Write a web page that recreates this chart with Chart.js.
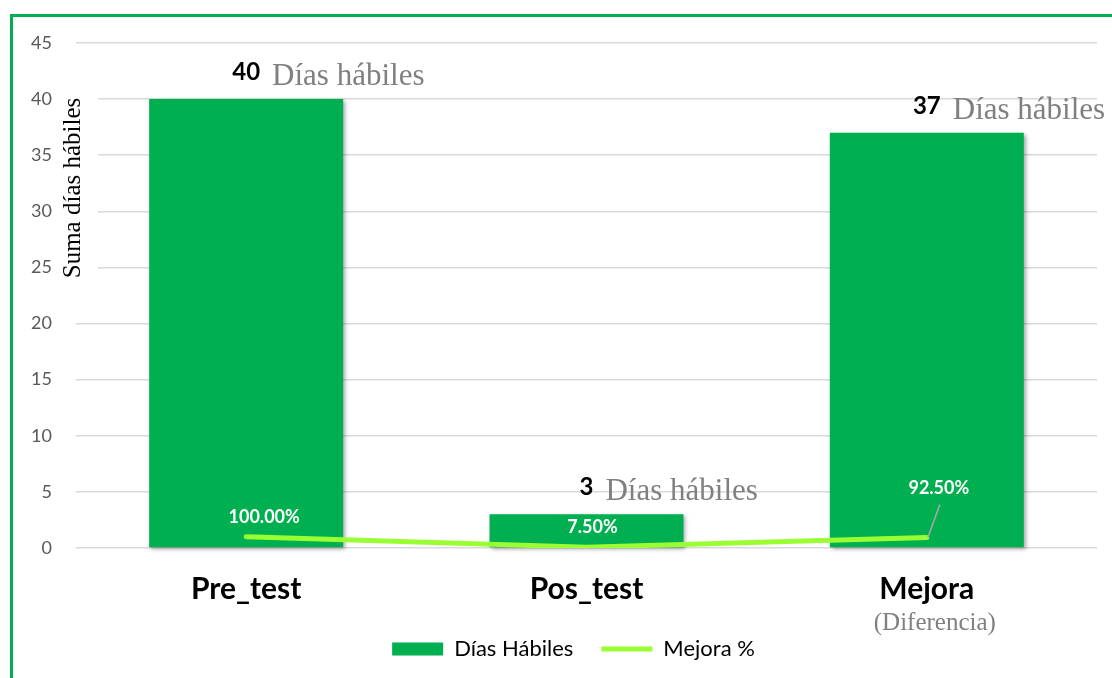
<!DOCTYPE html>
<html>
<head>
<meta charset="utf-8">
<script src="https://cdn.jsdelivr.net/npm/chart.js@4"></script>
<style>
  body { margin: 0; background: #fff; overflow: hidden; }
</style>
</head>
<body>
<canvas id="myChart" width="1112" height="678"></canvas>
<script>
// datos
const categories = ['Pre_test', 'Pos_test', 'Mejora'];
const categoryNotes = ['', '', '(Diferencia)'];
const diasHabiles = [40, 3, 37];
const mejoraPct = [1, 0.075, 0.925];
const seriesNames = ['Días Hábiles', 'Mejora %'];
const valueSuffix = 'Días hábiles';
const axisTitle = 'Suma días hábiles';
const yMax = 45;
const yStep = 5;

// desplazamientos de las etiquetas de porcentaje (px)
const pctDx = [18, 6, 12];
const pctDy = [-14, -14, -44];

const GREEN = '#00B050';
const LIME = '#99FF33';
const SERIF = '"Liberation Serif", "Times New Roman", serif';

Chart.defaults.font.family = 'Lato, "Open Sans", sans-serif';

var framePlugin = {
  id: 'frame',
  afterLayout: function (chart) {
    // la leyenda del original esta algo a la derecha del centro
    chart.legend.left += 50;
  },
  beforeDraw: function (chart) {
    var ctx = chart.ctx;
    ctx.save();
    ctx.fillStyle = '#fff';
    ctx.fillRect(0, 0, chart.width, chart.height);
    ctx.fillStyle = GREEN;
    ctx.fillRect(10, 14, chart.width - 10, 3);
    ctx.fillRect(10, 14, 3, chart.height - 14);
    ctx.restore();
  },
  beforeDatasetDraw: function (chart, args) {
    if (args.index === 0) {
      chart.ctx.save();
      chart.ctx.shadowColor = 'rgba(0,0,0,0.35)';
      chart.ctx.shadowBlur = 4;
      chart.ctx.shadowOffsetX = 2;
      chart.ctx.shadowOffsetY = 2;
    }
  },
  afterDatasetDraw: function (chart, args) {
    if (args.index === 0) chart.ctx.restore();
  },
  afterDraw: function (chart) {
    var ctx = chart.ctx;
    ctx.save();

    // titulo del eje Y, sobre fondo blanco
    ctx.fillStyle = '#fff';
    ctx.fillRect(58, 88, 40, 205);
    ctx.translate(80, 188);
    ctx.rotate(-Math.PI / 2);
    ctx.fillStyle = '#000';
    ctx.font = '25px ' + SERIF;
    ctx.textAlign = 'center';
    ctx.textBaseline = 'alphabetic';
    ctx.fillText(axisTitle, 0, 0);
    ctx.setTransform(1, 0, 0, 1, 0, 0);

    // etiquetas de las barras
    var bars = chart.getDatasetMeta(0).data;
    bars.forEach(function (bar, i) {
      var num = String(diasHabiles[i]);
      ctx.font = 'bold 24px Lato';
      ctx.fillStyle = '#000';
      ctx.textAlign = 'center';
      ctx.fillText(num, bar.x, bar.y - 19);
      var w = ctx.measureText(num).width;
      ctx.font = '31px ' + SERIF;
      ctx.fillStyle = '#808080';
      ctx.textAlign = 'left';
      ctx.fillText(valueSuffix, bar.x + w / 2 + 12, bar.y - 14);
    });

    // etiquetas de porcentaje
    var pts = chart.getDatasetMeta(1).data;
    pts.forEach(function (pt, i) {
      if (pctDy[i] < -20) {
        ctx.strokeStyle = '#A6A6A6';
        ctx.lineWidth = 1.5;
        ctx.beginPath();
        ctx.moveTo(pt.x + 13, pt.y - 33);
        ctx.lineTo(pt.x + 1, pt.y);
        ctx.stroke();
      }
      ctx.font = 'bold 18px Lato';
      ctx.fillStyle = '#fff';
      ctx.textAlign = 'center';
      ctx.fillText((mejoraPct[i] * 100).toFixed(2) + '%', pt.x + pctDx[i], pt.y + pctDy[i]);
    });

    // nota bajo la categoria
    var xs = chart.scales.x;
    ctx.font = '25px ' + SERIF;
    ctx.fillStyle = '#808080';
    ctx.textAlign = 'center';
    categoryNotes.forEach(function (note, i) {
      if (note) ctx.fillText(note, xs.getPixelForValue(i) + 8, 630);
    });
    ctx.restore();
  }
};

var myChart = new Chart(document.getElementById('myChart'), {
  type: 'bar',
  data: {
    labels: categories,
    datasets: [
      {
        label: seriesNames[0],
        data: diasHabiles,
        backgroundColor: GREEN,
        borderWidth: 0,
        categoryPercentage: 1,
        barPercentage: 0.57,
        pointStyle: 'rect',
        clip: false,
        order: 1
      },
      {
        type: 'line',
        label: seriesNames[1],
        data: mejoraPct,
        borderColor: LIME,
        backgroundColor: LIME,
        borderWidth: 5,
        borderCapStyle: 'round',
        pointRadius: 0,
        pointStyle: 'line',
        tension: 0,
        order: 0
      }
    ]
  },
  options: {
    responsive: false,
    animation: false,
    layout: { padding: { left: 0, right: 15, top: 43, bottom: 8 } },
    scales: {
      x: {
        grid: { display: false, drawTicks: false },
        border: { display: false },
        ticks: { color: '#000', padding: 23, font: { size: 30, weight: 'bold' } },
        afterFit: function (s) { s.height = 62; }
      },
      y: {
        min: 0,
        max: yMax,
        grid: { color: '#D9D9D9', lineWidth: 1.5, drawTicks: false },
        border: { display: false },
        ticks: { stepSize: yStep, color: '#595959', padding: 24, font: { size: 18 } },
        afterFit: function (s) { s.width = 76; }
      }
    },
    plugins: {
      legend: {
        position: 'bottom',
        labels: {
          usePointStyle: true,
          pointStyleWidth: 51,
          boxHeight: 13,
          padding: 28,
          color: '#000',
          font: { size: 22 },
          sort: function (a, b) { return a.datasetIndex - b.datasetIndex; }
        }
      },
      tooltip: { enabled: false }
    }
  },
  plugins: [framePlugin]
});
</script>
</body>
</html>
